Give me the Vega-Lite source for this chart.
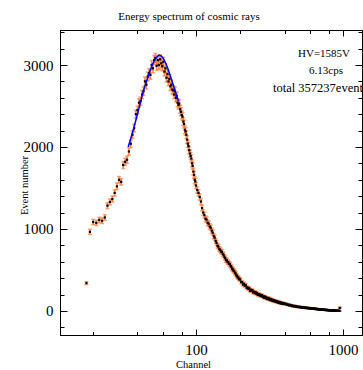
{
  "$schema": "https://vega.github.io/schema/vega-lite/v6.json",
  "width": 302,
  "height": 305,
  "autosize": {"type": "none"},
  "padding": {"left": 60, "top": 30, "right": 1, "bottom": 35},
  "background": "white",
  "title": {"text": "Energy spectrum of cosmic rays", "font": "Liberation Serif", "fontSize": 11, "fontWeight": "normal", "color": "black", "anchor": "middle", "dx": -22, "offset": -1, "baseline": "alphabetic"},
  "config": {
    "view": {"stroke": null},
    "axis": {"grid": false, "domainColor": "black", "tickColor": "black", "labelColor": "black", "titleColor": "black", "labelFont": "Liberation Serif", "labelFontSize": 15, "titleFont": "Liberation Serif", "titleFontSize": 10.5, "titleFontWeight": "normal", "domainWidth": 1, "tickWidth": 1}
  },
  "datasets": {
    "spec": [
      {"c":18,"v":340,"e":18},{"c":19,"v":965,"e":31},{"c":20,"v":1085,"e":33},{"c":21,"v":1075,"e":33},{"c":22,"v":1110,"e":33},{"c":23,"v":1100,"e":33},{"c":24,"v":1140,"e":34},{"c":25,"v":1285,"e":36},{"c":26,"v":1330,"e":36},{"c":27,"v":1365,"e":37},{"c":28,"v":1440,"e":38},{"c":29,"v":1520,"e":39},{"c":30,"v":1600,"e":40},{"c":31,"v":1575,"e":40},{"c":32,"v":1780,"e":42},{"c":33,"v":1820,"e":43},{"c":34,"v":1845,"e":43},{"c":35,"v":1945,"e":44},{"c":36,"v":2040,"e":45},{"c":37,"v":2150,"e":46},{"c":38,"v":2230,"e":47},{"c":39,"v":2400,"e":49},{"c":40,"v":2450,"e":49},{"c":41,"v":2540,"e":50},{"c":42,"v":2560,"e":51},{"c":43,"v":2640,"e":51},{"c":44,"v":2680,"e":52},{"c":45,"v":2800,"e":53},{"c":46,"v":2760,"e":53},{"c":47,"v":2860,"e":53},{"c":48,"v":2900,"e":54},{"c":49,"v":2880,"e":54},{"c":50,"v":3000,"e":55},{"c":51,"v":2960,"e":54},{"c":52,"v":3060,"e":55},{"c":53,"v":3085,"e":56},{"c":54,"v":2990,"e":55},{"c":55,"v":3060,"e":55},{"c":56,"v":3000,"e":55},{"c":57,"v":3070,"e":55},{"c":58,"v":3020,"e":55},{"c":59,"v":2985,"e":55},{"c":60,"v":3040,"e":55},{"c":61,"v":2920,"e":54},{"c":62,"v":2960,"e":54},{"c":63,"v":2845,"e":53},{"c":64,"v":2890,"e":54},{"c":65,"v":2800,"e":53},{"c":66,"v":2830,"e":53},{"c":67,"v":2740,"e":52},{"c":68,"v":2760,"e":53},{"c":69,"v":2700,"e":52},{"c":70,"v":2690,"e":52},{"c":71,"v":2640,"e":51},{"c":72,"v":2680,"e":52},{"c":73,"v":2600,"e":51},{"c":74,"v":2620,"e":51},{"c":75,"v":2540,"e":50},{"c":76,"v":2513,"e":50},{"c":77,"v":2530,"e":50},{"c":78,"v":2460,"e":50},{"c":79,"v":2430,"e":49},{"c":80,"v":2390,"e":49},{"c":81,"v":2370,"e":49},{"c":82,"v":2310,"e":48},{"c":83,"v":2280,"e":48},{"c":84,"v":2210,"e":47},{"c":85,"v":2190,"e":47},{"c":86,"v":2150,"e":46},{"c":87,"v":2090,"e":46},{"c":88,"v":2040,"e":45},{"c":89,"v":2010,"e":45},{"c":90,"v":1960,"e":44},{"c":91,"v":1920,"e":44},{"c":92,"v":1890,"e":43},{"c":93,"v":1860,"e":43},{"c":94,"v":1800,"e":42},{"c":95,"v":1770,"e":42},{"c":96,"v":1700,"e":41},{"c":97,"v":1660,"e":41},{"c":98,"v":1600,"e":40},{"c":99,"v":1580,"e":40},{"c":100,"v":1530,"e":39},
      {"c":102,"v":1475,"e":38},{"c":104,"v":1440,"e":38},{"c":106,"v":1390,"e":37},{"c":108,"v":1335,"e":37},{"c":110,"v":1255,"e":35},{"c":112,"v":1200,"e":35},{"c":114,"v":1170,"e":34},{"c":116,"v":1125,"e":34},{"c":118,"v":1115,"e":33},{"c":120,"v":1075,"e":33},{"c":122,"v":1065,"e":33},{"c":124,"v":1030,"e":32},{"c":126,"v":1015,"e":32},{"c":128,"v":980,"e":31},{"c":130,"v":955,"e":31},{"c":132,"v":915,"e":30},{"c":134,"v":895,"e":30},{"c":136,"v":855,"e":29},{"c":138,"v":830,"e":29},{"c":140,"v":795,"e":28},{"c":142,"v":785,"e":28},{"c":144,"v":755,"e":27},{"c":146,"v":745,"e":27},{"c":148,"v":725,"e":27},{"c":150,"v":722,"e":27},{"c":152,"v":695,"e":26},{"c":154,"v":685,"e":26},{"c":156,"v":660,"e":26},{"c":158,"v":645,"e":25},{"c":160,"v":620,"e":25},{"c":162,"v":618,"e":25},{"c":164,"v":598,"e":24},{"c":166,"v":593,"e":24},{"c":168,"v":575,"e":24},{"c":170,"v":572,"e":24},{"c":172,"v":548,"e":23},{"c":174,"v":538,"e":23},{"c":176,"v":516,"e":23},{"c":178,"v":508,"e":23},{"c":180,"v":490,"e":22},{"c":182,"v":488,"e":22},{"c":184,"v":466,"e":22},{"c":186,"v":458,"e":21},{"c":188,"v":437,"e":21},{"c":190,"v":428,"e":21},{"c":192,"v":412,"e":20},{"c":194,"v":408,"e":20},{"c":196,"v":392,"e":20},{"c":198,"v":388,"e":20},
      {"c":200,"v":382,"e":20},{"c":203,"v":352,"e":19},{"c":206,"v":351,"e":19},{"c":209,"v":322,"e":18},{"c":212,"v":332,"e":18},{"c":215,"v":308,"e":18},{"c":218,"v":316,"e":18},{"c":221,"v":284,"e":17},{"c":224,"v":288,"e":17},{"c":227,"v":269,"e":16},{"c":230,"v":279,"e":17},{"c":233,"v":247,"e":16},{"c":236,"v":259,"e":16},{"c":239,"v":245,"e":16},{"c":242,"v":253,"e":16},{"c":245,"v":226,"e":15},{"c":248,"v":235,"e":15},{"c":251,"v":218,"e":15},{"c":254,"v":230,"e":15},{"c":257,"v":211,"e":15},{"c":260,"v":218,"e":15},{"c":263,"v":196,"e":14},{"c":266,"v":205,"e":14},{"c":269,"v":206,"e":14},{"c":272,"v":186,"e":14},{"c":275,"v":196,"e":14},{"c":278,"v":181,"e":13},{"c":281,"v":193,"e":14},{"c":284,"v":173,"e":13},{"c":287,"v":178,"e":13},{"c":290,"v":162,"e":13},{"c":293,"v":177,"e":13},{"c":296,"v":162,"e":13},{"c":299,"v":167,"e":13},{"c":302,"v":149,"e":12},{"c":305,"v":159,"e":13},{"c":308,"v":146,"e":12},{"c":311,"v":158,"e":13},{"c":314,"v":142,"e":12},{"c":317,"v":148,"e":12},{"c":320,"v":133,"e":12},{"c":323,"v":141,"e":12},{"c":326,"v":142,"e":12},{"c":329,"v":127,"e":11},{"c":332,"v":134,"e":12},{"c":335,"v":121,"e":11},{"c":338,"v":132,"e":11},{"c":341,"v":120,"e":11},{"c":344,"v":126,"e":11},{"c":347,"v":113,"e":11},{"c":350,"v":119,"e":11},{"c":353,"v":121,"e":11},{"c":356,"v":107,"e":10},{"c":359,"v":113,"e":11},{"c":362,"v":102,"e":10},{"c":365,"v":111,"e":11},{"c":368,"v":102,"e":10},{"c":371,"v":108,"e":10},{"c":374,"v":95,"e":10},{"c":377,"v":101,"e":10},{"c":380,"v":91,"e":10},{"c":383,"v":99,"e":10},{"c":386,"v":90,"e":9},{"c":389,"v":97,"e":10},{"c":392,"v":86,"e":9},{"c":395,"v":92,"e":10},{"c":398,"v":86,"e":9},
      {"c":400,"v":92,"e":10},{"c":406,"v":82,"e":9},{"c":412,"v":87,"e":9},{"c":418,"v":75,"e":9},{"c":424,"v":79,"e":9},{"c":430,"v":68,"e":8},{"c":436,"v":74,"e":9},{"c":442,"v":65,"e":8},{"c":448,"v":69,"e":8},{"c":454,"v":58,"e":8},{"c":460,"v":63,"e":8},{"c":466,"v":55,"e":7},{"c":472,"v":61,"e":8},{"c":478,"v":53,"e":7},{"c":484,"v":56,"e":7},{"c":490,"v":48,"e":7},{"c":496,"v":53,"e":7},{"c":502,"v":47,"e":7},{"c":508,"v":51,"e":7},{"c":514,"v":43,"e":7},{"c":520,"v":47,"e":7},{"c":526,"v":41,"e":6},{"c":532,"v":47,"e":7},{"c":538,"v":40,"e":6},{"c":544,"v":44,"e":7},{"c":550,"v":37,"e":6},{"c":556,"v":41,"e":6},{"c":562,"v":36,"e":6},{"c":568,"v":40,"e":6},{"c":574,"v":33,"e":6},{"c":580,"v":37,"e":6},{"c":586,"v":32,"e":6},{"c":592,"v":36,"e":6},{"c":598,"v":30,"e":5},{"c":604,"v":34,"e":6},{"c":610,"v":28,"e":5},{"c":616,"v":32,"e":6},{"c":622,"v":28,"e":5},{"c":628,"v":31,"e":6},{"c":634,"v":26,"e":5},{"c":640,"v":29,"e":5},{"c":646,"v":24,"e":5},{"c":652,"v":28,"e":5},{"c":658,"v":22,"e":5},{"c":664,"v":25,"e":5},{"c":670,"v":21,"e":5},{"c":676,"v":24,"e":5},{"c":682,"v":18,"e":4},{"c":688,"v":22,"e":5},{"c":694,"v":17,"e":4},{"c":700,"v":20,"e":4},{"c":706,"v":17,"e":4},{"c":712,"v":19,"e":4},{"c":718,"v":14,"e":4},{"c":724,"v":18,"e":4},{"c":730,"v":14,"e":4},{"c":736,"v":17,"e":4},{"c":742,"v":12,"e":3},{"c":748,"v":15,"e":4},{"c":754,"v":12,"e":3},{"c":760,"v":15,"e":4},{"c":766,"v":10,"e":3},{"c":772,"v":13,"e":4},{"c":778,"v":10,"e":3},{"c":784,"v":13,"e":4},{"c":790,"v":9,"e":3},{"c":796,"v":11,"e":3},{"c":802,"v":8,"e":3},{"c":808,"v":11,"e":3},{"c":814,"v":7,"e":3},{"c":820,"v":9,"e":3},{"c":826,"v":6,"e":2},{"c":832,"v":9,"e":3},{"c":838,"v":6,"e":2},{"c":844,"v":7,"e":3},{"c":850,"v":5,"e":2},{"c":856,"v":7,"e":3},{"c":862,"v":4,"e":2},{"c":868,"v":6,"e":2},{"c":874,"v":3,"e":2},{"c":880,"v":5,"e":2},{"c":886,"v":3,"e":2},{"c":892,"v":4,"e":2},{"c":898,"v":2,"e":1},{"c":904,"v":4,"e":2},{"c":910,"v":1,"e":1},{"c":916,"v":3,"e":2},{"c":922,"v":2,"e":1},{"c":928,"v":1,"e":1},{"c":934,"v":2,"e":1},{"c":940,"v":1,"e":1},{"c":946,"v":1,"e":1},{"c":950,"v":38,"e":6}
    ],
    "fit": [
      {"c":34.6,"v":2000},{"c":36,"v":2100},{"c":38,"v":2250},{"c":40,"v":2400},{"c":42,"v":2550},{"c":44,"v":2690},{"c":46,"v":2800},{"c":48,"v":2900},{"c":50,"v":2985},{"c":52,"v":3050},{"c":54,"v":3095},{"c":56,"v":3120},{"c":58,"v":3110},{"c":60,"v":3080},{"c":62,"v":3030},{"c":64,"v":2970},{"c":66,"v":2900},{"c":68,"v":2830},{"c":70,"v":2760},{"c":72,"v":2690},{"c":74,"v":2620},{"c":76,"v":2560}
    ],
    "one": [{}]
  },
  "resolve": {"axis": {"x": "independent", "y": "independent"}},
  "layer": [
    {
      "data": {"name": "spec"},
      "mark": {"type": "errorbar", "ticks": true, "size": 4, "thickness": 1.5, "color": "#ff7f40"},
      "encoding": {
        "x": {"field": "c", "type": "quantitative", "scale": {"type": "log", "domain": [11.9, 1345], "nice": false}, "axis": null},
        "y": {"field": "v", "type": "quantitative", "scale": {"domain": [-293, 3427], "nice": false, "zero": false}, "axis": null},
        "yError": {"field": "e"}
      }
    },
    {
      "data": {"name": "spec"},
      "mark": {"type": "square", "size": 5, "color": "black", "opacity": 1},
      "encoding": {
        "x": {"field": "c", "type": "quantitative", "scale": {"type": "log", "domain": [11.9, 1345], "nice": false},
              "axis": {"orient": "bottom", "values": [100, 1000], "format": "d", "tickSize": -6, "labelPadding": 13, "title": "Channel", "titleX": 133, "titleY": 32, "titleBaseline": "alphabetic", "titleAlign": "center"}},
        "y": {"field": "v", "type": "quantitative", "scale": {"domain": [-293, 3427], "nice": false, "zero": false},
              "axis": {"orient": "left", "values": [0, 1000, 2000, 3000], "format": "d", "tickSize": -7, "labelPadding": 14, "title": "Event number", "titleX": -33, "titleY": 155, "titleAngle": -90, "titleAlign": "center", "titleBaseline": "alphabetic"}}
      }
    },
    {
      "data": {"name": "fit"},
      "mark": {"type": "line", "color": "#0000ff", "strokeWidth": 1.5},
      "encoding": {
        "x": {"field": "c", "type": "quantitative", "scale": {"type": "log", "domain": [11.9, 1345], "nice": false},
              "axis": {"orient": "top", "values": [100, 1000], "tickSize": -6, "labels": false, "title": null}},
        "y": {"field": "v", "type": "quantitative", "scale": {"domain": [-293, 3427], "nice": false, "zero": false},
              "axis": {"orient": "right", "values": [0, 1000, 2000, 3000], "tickSize": -7, "labels": false, "title": null}}
      }
    },
    {
      "data": {"name": "one"},
      "mark": {"type": "text", "text": "HV=1585V", "font": "Liberation Serif", "fontSize": 11, "align": "center", "baseline": "middle", "color": "black"},
      "encoding": {
        "x": {"datum": 742, "type": "quantitative", "scale": {"type": "log", "domain": [11.9, 1345], "nice": false},
              "axis": {"orient": "top", "values": [20, 40, 60, 80, 200, 400, 600, 800], "tickSize": -3.5, "labels": false, "title": null}},
        "y": {"datum": 3134, "type": "quantitative", "scale": {"domain": [-293, 3427], "nice": false, "zero": false},
              "axis": {"orient": "right", "values": [-200, 200, 400, 600, 800, 1200, 1400, 1600, 1800, 2200, 2400, 2600, 2800, 3200, 3400], "tickSize": -4, "labels": false, "title": null}}
      }
    },
    {
      "data": {"name": "one"},
      "mark": {"type": "text", "text": "6.13cps", "font": "Liberation Serif", "fontSize": 11, "align": "center", "baseline": "middle", "color": "black"},
      "encoding": {
        "x": {"datum": 766, "type": "quantitative", "scale": {"type": "log", "domain": [11.9, 1345], "nice": false},
              "axis": {"orient": "bottom", "values": [20, 40, 60, 80, 200, 400, 600, 800], "tickSize": -3.5, "labels": false, "title": null}},
        "y": {"datum": 2927, "type": "quantitative", "scale": {"domain": [-293, 3427], "nice": false, "zero": false},
              "axis": {"orient": "left", "values": [-200, 200, 400, 600, 800, 1200, 1400, 1600, 1800, 2200, 2400, 2600, 2800, 3200, 3400], "tickSize": -4, "labels": false, "title": null}}
      }
    },
    {
      "data": {"name": "one"},
      "mark": {"type": "text", "text": "total 357237events", "font": "Liberation Serif", "fontSize": 12.5, "align": "left", "baseline": "middle", "color": "black"},
      "encoding": {
        "x": {"datum": 334, "type": "quantitative", "scale": {"type": "log", "domain": [11.9, 1345], "nice": false}, "axis": null},
        "y": {"datum": 2720, "type": "quantitative", "scale": {"domain": [-293, 3427], "nice": false, "zero": false}, "axis": null}
      }
    }
  ]
}
